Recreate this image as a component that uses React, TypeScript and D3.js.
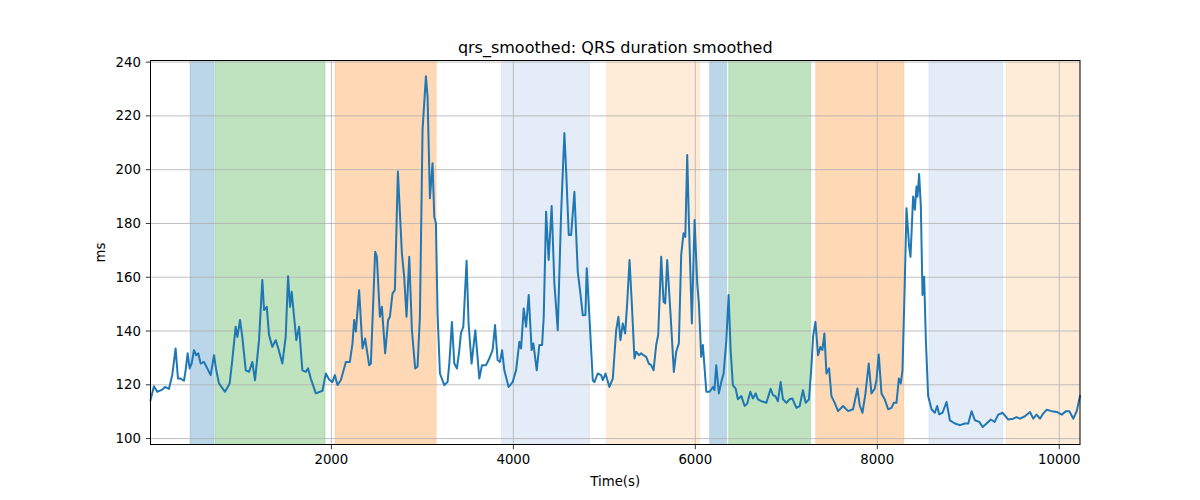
import React, { useEffect, useRef } from "react";
import * as d3 from "d3";

// sample times (s) and smoothed QRS duration (ms)
const timeS = [
  12, 50, 86, 141, 171, 215, 251, 288, 314, 343, 380, 398, 420, 442, 464, 490, 515, 537, 563, 600,
  636, 673, 710, 735, 765, 831, 882, 911, 948, 967, 996, 1021, 1059, 1095, 1131, 1161, 1205, 1241,
  1260, 1290, 1315, 1351, 1388, 1417, 1461, 1498, 1524, 1546, 1564, 1590, 1615, 1645, 1681, 1719,
  1744, 1774, 1829, 1902, 1939, 1975, 2011, 2038, 2067, 2104, 2129, 2159, 2203, 2232, 2250, 2269,
  2305, 2342, 2371, 2415, 2434, 2481, 2500, 2533, 2555, 2591, 2624, 2643, 2672, 2698, 2731, 2775,
  2800, 2826, 2856, 2885, 2921, 2947, 2973, 3002, 3039, 3057, 3083, 3112, 3131, 3149, 3167, 3193,
  3241, 3277, 3296, 3325, 3351, 3380, 3406, 3424, 3450, 3486, 3508, 3541, 3582, 3626, 3655, 3700,
  3736, 3772, 3799, 3827, 3853, 3876, 3901, 3948, 3992, 4030, 4066, 4085, 4114, 4140, 4169, 4201,
  4220, 4257, 4286, 4316, 4334, 4360, 4388, 4421, 4451, 4488, 4525, 4561, 4580, 4609, 4635, 4671,
  4708, 4737, 4763, 4792, 4807, 4836, 4873, 4891, 4928, 4965, 4983, 5013, 5056, 5093, 5130, 5155,
  5177, 5203, 5229, 5251, 5277, 5302, 5331, 5350, 5379, 5405, 5430, 5460, 5489, 5515, 5541, 5570,
  5592, 5625, 5651, 5669, 5691, 5727, 5764, 5790, 5819, 5845, 5871, 5890, 5911, 5929, 5962, 5992,
  6021, 6039, 6065, 6083, 6121, 6157, 6193, 6210, 6230, 6259, 6285, 6311, 6341, 6366, 6388, 6413,
  6443, 6468, 6506, 6542, 6570, 6605, 6633, 6663, 6688, 6726, 6781, 6828, 6853, 6880, 6908, 6938,
  6963, 7001, 7035, 7067, 7111, 7147, 7183, 7213, 7249, 7276, 7294, 7320, 7349, 7375, 7397, 7419,
  7441, 7470, 7496, 7532, 7569, 7624, 7679, 7734, 7782, 7807, 7837, 7870, 7906, 7936, 7972, 7991,
  8016, 8046, 8082, 8119, 8156, 8181, 8211, 8237, 8258, 8277, 8302, 8321, 8350, 8365, 8394, 8413,
  8431, 8442, 8460, 8479, 8497, 8515, 8534, 8559, 8596, 8633, 8658, 8680, 8717, 8761, 8798, 8853,
  8908, 8963, 9000, 9036, 9073, 9121, 9158, 9201, 9249, 9290, 9329, 9378, 9439, 9494, 9530, 9568,
  9623, 9678, 9714, 9751, 9788, 9824, 9861, 9917, 9972, 10027, 10075, 10111, 10155, 10192, 10228,
];

const qrsMs = [
  114.3, 119.5, 117.4, 118.2, 119.2, 118.5, 123.6, 133.5, 122.3, 122.3, 121.5, 125.4, 131.7, 126.1, 127.9, 132.9, 131.0, 131.7, 127.9, 128.5,
  126.1, 123.6, 131.0, 125.4, 120.5, 117.4, 120.5, 129.2, 141.6, 137.8, 144.1, 137.8, 125.4, 124.8, 128.5, 121.7, 136.6, 159.0,
  147.8, 149.0, 138.5, 134.1, 136.6, 133.5, 127.9, 137.8, 160.4, 149.0, 154.6, 145.3, 136.6, 141.6, 125.4, 124.8,
  126.1, 122.3, 116.8, 117.8, 124.2, 122.0, 121.0, 123.6, 119.9, 121.7, 124.8, 128.5, 128.5, 135.4, 144.1, 139.8,
  155.2, 133.5, 137.2, 127.3, 127.9, 169.5, 167.6, 145.3, 149.0, 131.7, 144.1, 145.3, 154.0, 155.2, 199.3, 168.9,
  160.2, 145.3, 167.6, 140.3, 126.1, 126.7, 145.3, 214.8, 234.7, 227.2, 189.4, 202.4, 182.5, 180.1, 146.6, 124.2,
  119.9, 121.0, 127.9, 143.4, 127.9, 126.1, 132.9, 139.1, 141.6, 166.1, 142.8, 127.9, 140.3, 122.3, 127.3, 127.3,
  129.8, 132.9, 142.2, 129.2, 128.5, 132.9, 125.4, 119.2, 121.0, 125.4, 136.0, 133.5, 148.4, 141.6, 153.4, 132.9,
  135.4, 125.4, 134.8, 134.8, 145.3, 184.4, 166.4, 186.5, 157.7, 140.3, 183.8, 213.6, 199.9, 175.7, 175.7, 191.8,
  162.0, 154.0, 145.9, 146.0, 163.3, 145.3, 121.7, 121.0, 124.2, 123.6, 121.7, 124.2, 119.2, 122.3, 140.3, 145.3,
  136.6, 142.8, 139.1, 150.3, 166.4, 150.3, 129.8, 132.3, 131.0, 131.7, 131.0, 130.4, 127.9, 127.3, 125.4, 134.8,
  138.5, 167.6, 150.9, 150.3, 166.4, 146.6, 124.8, 132.3, 135.4, 168.3, 176.4, 175.0, 205.5, 181.3, 142.8, 181.3,
  157.7, 150.3, 130.4, 134.8, 117.4, 117.4, 119.2, 118.0, 127.3, 116.8, 121.0, 124.2, 136.6, 153.4, 132.9, 119.9,
  118.6, 114.6, 115.8, 112.1, 113.0, 117.4, 114.9, 116.8, 114.6, 113.9, 113.3, 118.5, 116.2, 115.8, 113.9, 121.0,
  114.6, 113.3, 114.6, 114.9, 111.4, 112.1, 118.0, 113.3, 114.6, 126.7, 137.8, 143.4, 131.0, 134.1, 133.0, 139.1,
  124.2, 126.1, 115.8, 113.3, 110.2, 112.1, 110.2, 110.9, 118.6, 112.4, 109.6, 116.8, 127.9, 116.8, 118.6, 121.7,
  131.3, 116.8, 114.6, 110.9, 111.4, 113.3, 113.3, 122.3, 120.5, 125.4, 157.7, 185.7, 171.4, 167.6, 190.0, 185.1,
  193.7, 190.0, 198.4, 186.1, 153.4, 160.2, 136.6, 115.8, 110.9, 109.6, 112.1, 109.0, 109.6, 113.6, 106.8, 105.6,
  105.0, 105.6, 105.6, 110.2, 106.8, 106.2, 104.3, 105.6, 107.1, 106.2, 108.9, 109.6, 107.1, 107.4, 108.0, 107.4,
  108.3, 109.9, 107.4, 108.9, 107.4, 109.3, 110.7, 110.2, 109.9, 108.9, 110.2, 110.2, 107.4, 110.2, 115.8,
];

// shaded segments
const spanStart = [446, 721, 2041, 3868, 5023, 6157, 6366, 7323, 8567, 9414];
const spanEnd = [710, 1931, 3152, 4836, 6047, 6344, 7268, 8292, 9381, 10228];
const spanKind = ["blue", "green", "orange", "paleBlue", "paleOrange", "blue", "green", "orange", "paleBlue", "paleOrange"];

const xTicks = [2000, 4000, 6000, 8000, 10000];
const yTicks = [100, 120, 140, 160, 180, 200, 220, 240];

const spanFill: Record<string, string> = {
  blue: "#1f77b4",
  green: "#2ca02c",
  orange: "#ff7f0e",
  paleBlue: "#5b8fd0",
  paleOrange: "#f99a3c",
};
const spanOpacity: Record<string, number> = {
  blue: 0.3,
  green: 0.3,
  orange: 0.3,
  paleBlue: 0.17,
  paleOrange: 0.2,
};

const App: React.FC = () => {
  const svgRef = useRef<SVGSVGElement>(null);

  useEffect(() => {
    if (!svgRef.current) return;
    const svg = d3.select(svgRef.current);
    svg.selectAll("*").remove();

    const width = 1200;
    const height = 500;
    const left = 150.5;
    const right = 1080;
    const top = 60.5;
    const bottom = 444.5;
    const font = "DejaVu Sans, sans-serif";

    svg.attr("width", width).attr("height", height);

    const x = d3.scaleLinear().domain([12, 10228]).range([left, right]);
    const y = d3.scaleLinear().domain([97.8, 240.6]).range([bottom, top]);

    svg.append("rect").attr("width", width).attr("height", height).attr("fill", "#fff");

    // spans
    spanStart.forEach((s, i) => {
      const kind = spanKind[i];
      svg
        .append("rect")
        .attr("x", x(s))
        .attr("y", top)
        .attr("width", x(spanEnd[i]) - x(s))
        .attr("height", bottom - top)
        .attr("fill", spanFill[kind])
        .attr("fill-opacity", spanOpacity[kind])
        .attr("stroke", spanFill[kind])
        .attr("stroke-opacity", spanOpacity[kind] * 0.6)
        .attr("stroke-width", 1);
    });

    // grid
    const grid = svg.append("g").attr("stroke", "#b0b0b0").attr("stroke-width", 0.8);
    xTicks.forEach((t) => {
      grid.append("line").attr("x1", x(t)).attr("x2", x(t)).attr("y1", top).attr("y2", bottom);
    });
    yTicks.forEach((t) => {
      grid.append("line").attr("x1", left).attr("x2", right).attr("y1", y(t)).attr("y2", y(t));
    });

    // line
    const pts: [number, number][] = timeS.map((t, i) => [t, qrsMs[i]]);
    const line = d3
      .line<[number, number]>()
      .x((d) => x(d[0]))
      .y((d) => y(d[1]));
    svg
      .append("path")
      .attr("d", line(pts) || "")
      .attr("fill", "none")
      .attr("stroke", "#1f77b4")
      .attr("stroke-width", 2)
      .attr("stroke-linejoin", "round")
      .attr("stroke-linecap", "square");

    // frame
    svg
      .append("rect")
      .attr("x", left)
      .attr("y", top)
      .attr("width", right - left)
      .attr("height", bottom - top)
      .attr("fill", "none")
      .attr("stroke", "#000")
      .attr("stroke-width", 1);

    // x axis
    const xa = svg.append("g");
    xTicks.forEach((t) => {
      xa.append("line")
        .attr("x1", x(t))
        .attr("x2", x(t))
        .attr("y1", bottom)
        .attr("y2", bottom + 4.7)
        .attr("stroke", "#000")
        .attr("stroke-width", 0.8);
      xa.append("text")
        .attr("x", x(t))
        .attr("y", bottom + 19)
        .attr("text-anchor", "middle")
        .style("font-family", font)
        .style("font-size", "13.3px")
        .text(String(t));
    });

    // y axis
    const ya = svg.append("g");
    yTicks.forEach((t) => {
      ya.append("line")
        .attr("x1", left - 4.7)
        .attr("x2", left)
        .attr("y1", y(t))
        .attr("y2", y(t))
        .attr("stroke", "#000")
        .attr("stroke-width", 0.8);
      ya.append("text")
        .attr("x", left - 9.5)
        .attr("y", y(t))
        .attr("text-anchor", "end")
        .attr("dominant-baseline", "central")
        .style("font-family", font)
        .style("font-size", "13.3px")
        .text(String(t));
    });

    // labels
    svg
      .append("text")
      .attr("x", (left + right) / 2)
      .attr("y", bottom + 41)
      .attr("text-anchor", "middle")
      .style("font-family", font)
      .style("font-size", "13.3px")
      .text("Time(s)");

    svg
      .append("text")
      .attr("transform", `translate(105, ${(top + bottom) / 2}) rotate(-90)`)
      .attr("text-anchor", "middle")
      .style("font-family", font)
      .style("font-size", "13.3px")
      .text("ms");

    svg
      .append("text")
      .attr("x", (left + right) / 2)
      .attr("y", top - 8)
      .attr("text-anchor", "middle")
      .style("font-family", font)
      .style("font-size", "16px")
      .text("qrs_smoothed: QRS duration smoothed");
  }, []);

  return (
    <div style={{ position: "absolute", left: 0, top: 0 }}>
      <svg ref={svgRef} style={{ display: "block" }}></svg>
    </div>
  );
};

export default App;
